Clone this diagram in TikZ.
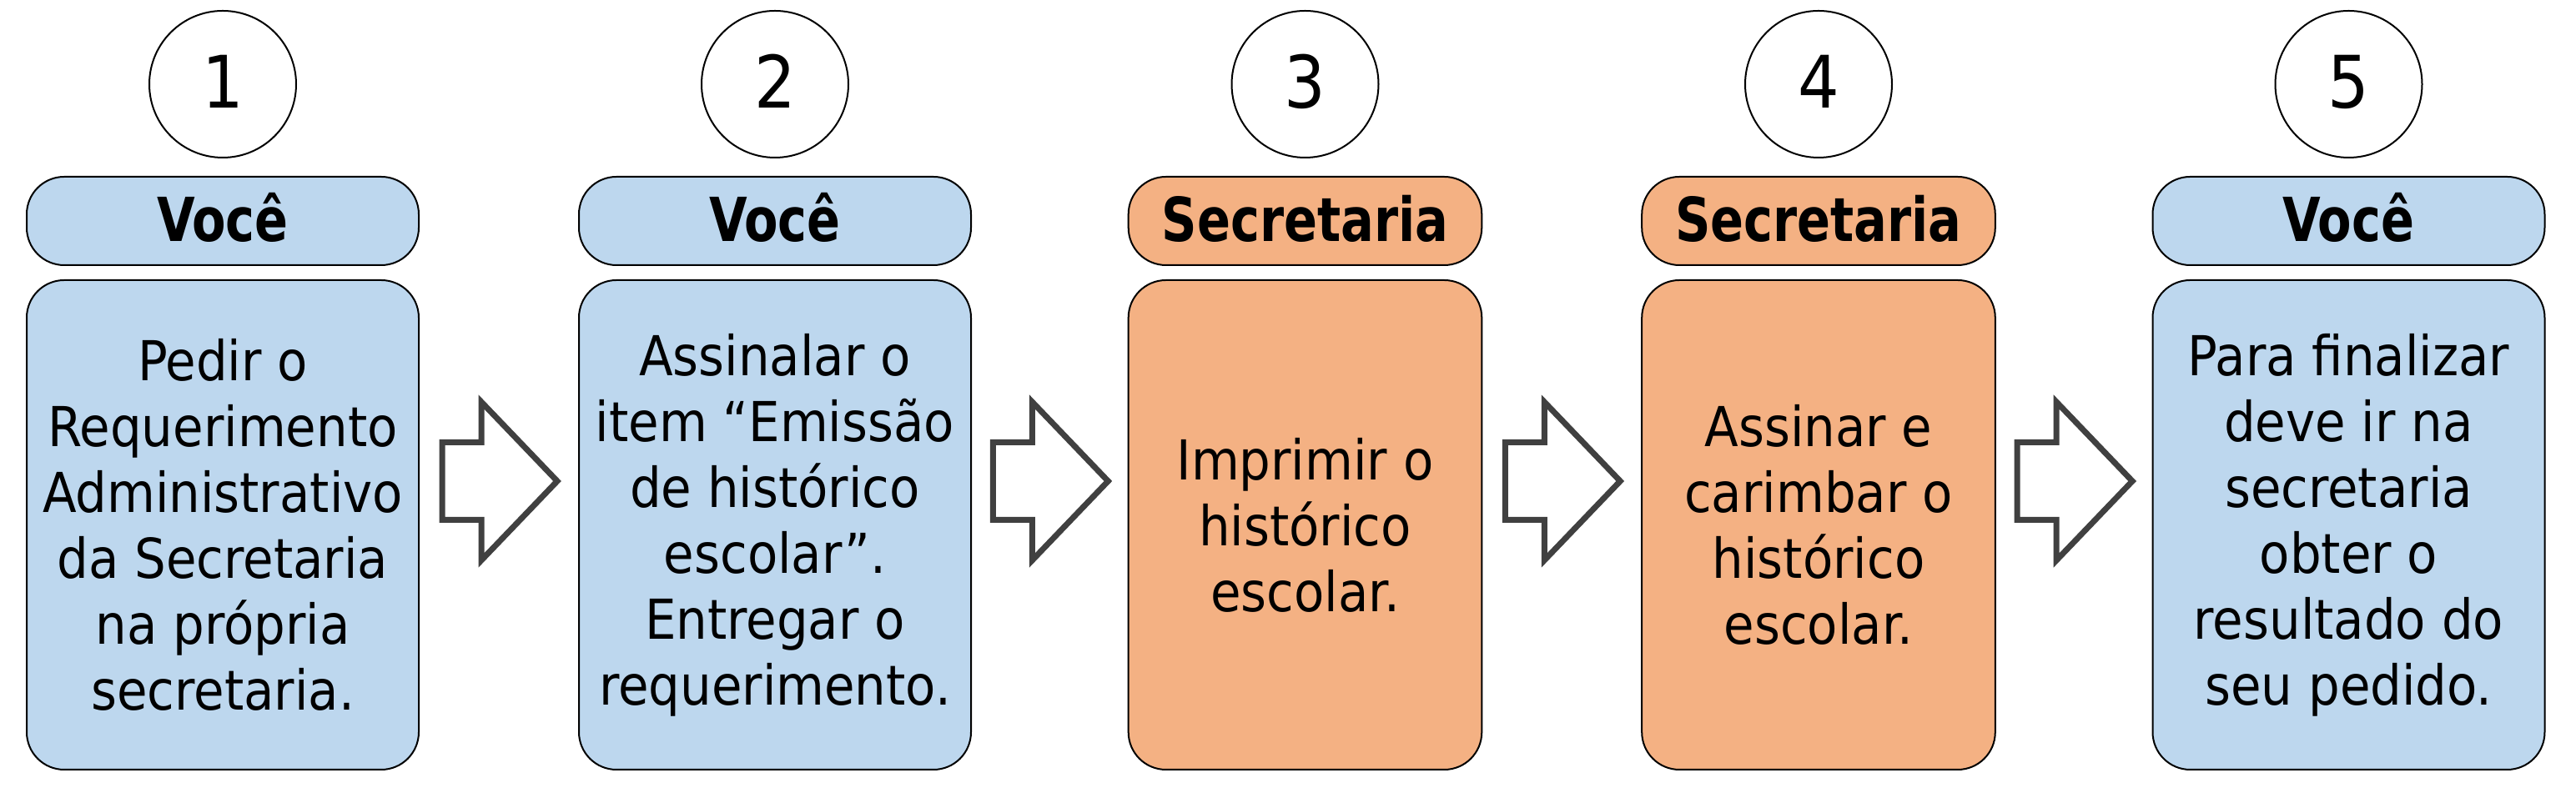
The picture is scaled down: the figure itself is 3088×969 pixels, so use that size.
\documentclass[tikz,border=0pt]{standalone}
\usepackage{fontspec}
\setmainfont{DejaVu Sans Condensed}[BoldFeatures={FakeStretch=0.9}]
\usetikzlibrary{calc}
\definecolor{youblue}{HTML}{BDD7EE}
\definecolor{secorange}{HTML}{F4B183}
\definecolor{arrowgray}{HTML}{404040}
\begin{document}
\begin{tikzpicture}[x=0.25pt,y=-0.25pt,
  numcircle/.style={circle,draw=black,line width=0.5pt,fill=white,minimum size=44pt,inner sep=0pt,
    text height=14.5pt,text depth=0pt,font=\fontsize{21.7}{26}\selectfont},
  pill/.style={rectangle,rounded corners=11.25pt,draw=black,line width=0.5pt,minimum height=26.5pt,
    inner sep=0pt,text height=12.5pt,text depth=0pt,font=\bfseries\fontsize{18.2}{22}\selectfont},
  bodybox/.style={rectangle,rounded corners=11.25pt,draw=black,line width=0.5pt,minimum height=146.75pt,
    inner sep=0pt,align=center,font=\fontsize{16.5}{19.75}\selectfont},
  you/.style={fill=youblue},
  sec/.style={fill=secorange},
  wide/.style={minimum width=117.5pt},
  narrow/.style={minimum width=105.9pt},
  blockarrow/.style={draw=arrowgray,fill=white,line width=1.75pt,line join=miter}
]
\useasboundingbox (0,0) rectangle (3088,969);

% step numbers
\node[numcircle] (c1) at (267,101) {1};
\node[numcircle] (c2) at (929,101) {2};
\node[numcircle] (c3) at (1564.5,101) {3};
\node[numcircle] (c4) at (2180,101) {4};
\node[numcircle] (c5) at (2815.5,101) {5};

% actor pills
\node[pill,you,wide] (p1) at (267,265) {Você};
\node[pill,you,wide] (p2) at (929,265) {Você};
\node[pill,sec,narrow] (p3) at (1564.5,265) {Secretaria};
\node[pill,sec,narrow] (p4) at (2180,265) {Secretaria};
\node[pill,you,wide] (p5) at (2815.5,265) {Você};

% bodies
\node[bodybox,you,wide] (b1) at (267,629.5) {Pedir o\\Requerimento\\Administrativo\\da Secretaria\\na própria\\secretaria.};
\node[bodybox,you,wide] (b2) at (929,629.5) {Assinalar o\\item “Emissão\\de histórico\\escolar”.\\Entregar o\\requerimento.};
\node[bodybox,sec,narrow] (b3) at (1564.5,629.5) {Imprimir o\\histórico\\escolar.};
\node[bodybox,sec,narrow] (b4) at (2180,629.5) {Assinar e\\carimbar o\\histórico\\escolar.};
\node[bodybox,you,wide] (b5) at (2815.5,629.5) {Para finalizar\\deve ir na\\secretaria\\obter o\\resultado do\\seu pedido.};

% block arrows between steps
\foreach \a/\b/\m in {b1/b2/m1,b2/b3/m2,b3/b4/m3,b4/b5/m4}{
  \coordinate (\m) at ($(\a.east)!0.5!(\b.west)+(0,-52.5)$);
  \draw[blockarrow,shift={(\m)}] (-68,-46.5) -- (-21,-46.5) -- (-21,-95) -- (70,0) -- (-21,95) -- (-21,46.5) -- (-68,46.5) -- cycle;
}
\end{tikzpicture}
\end{document}
